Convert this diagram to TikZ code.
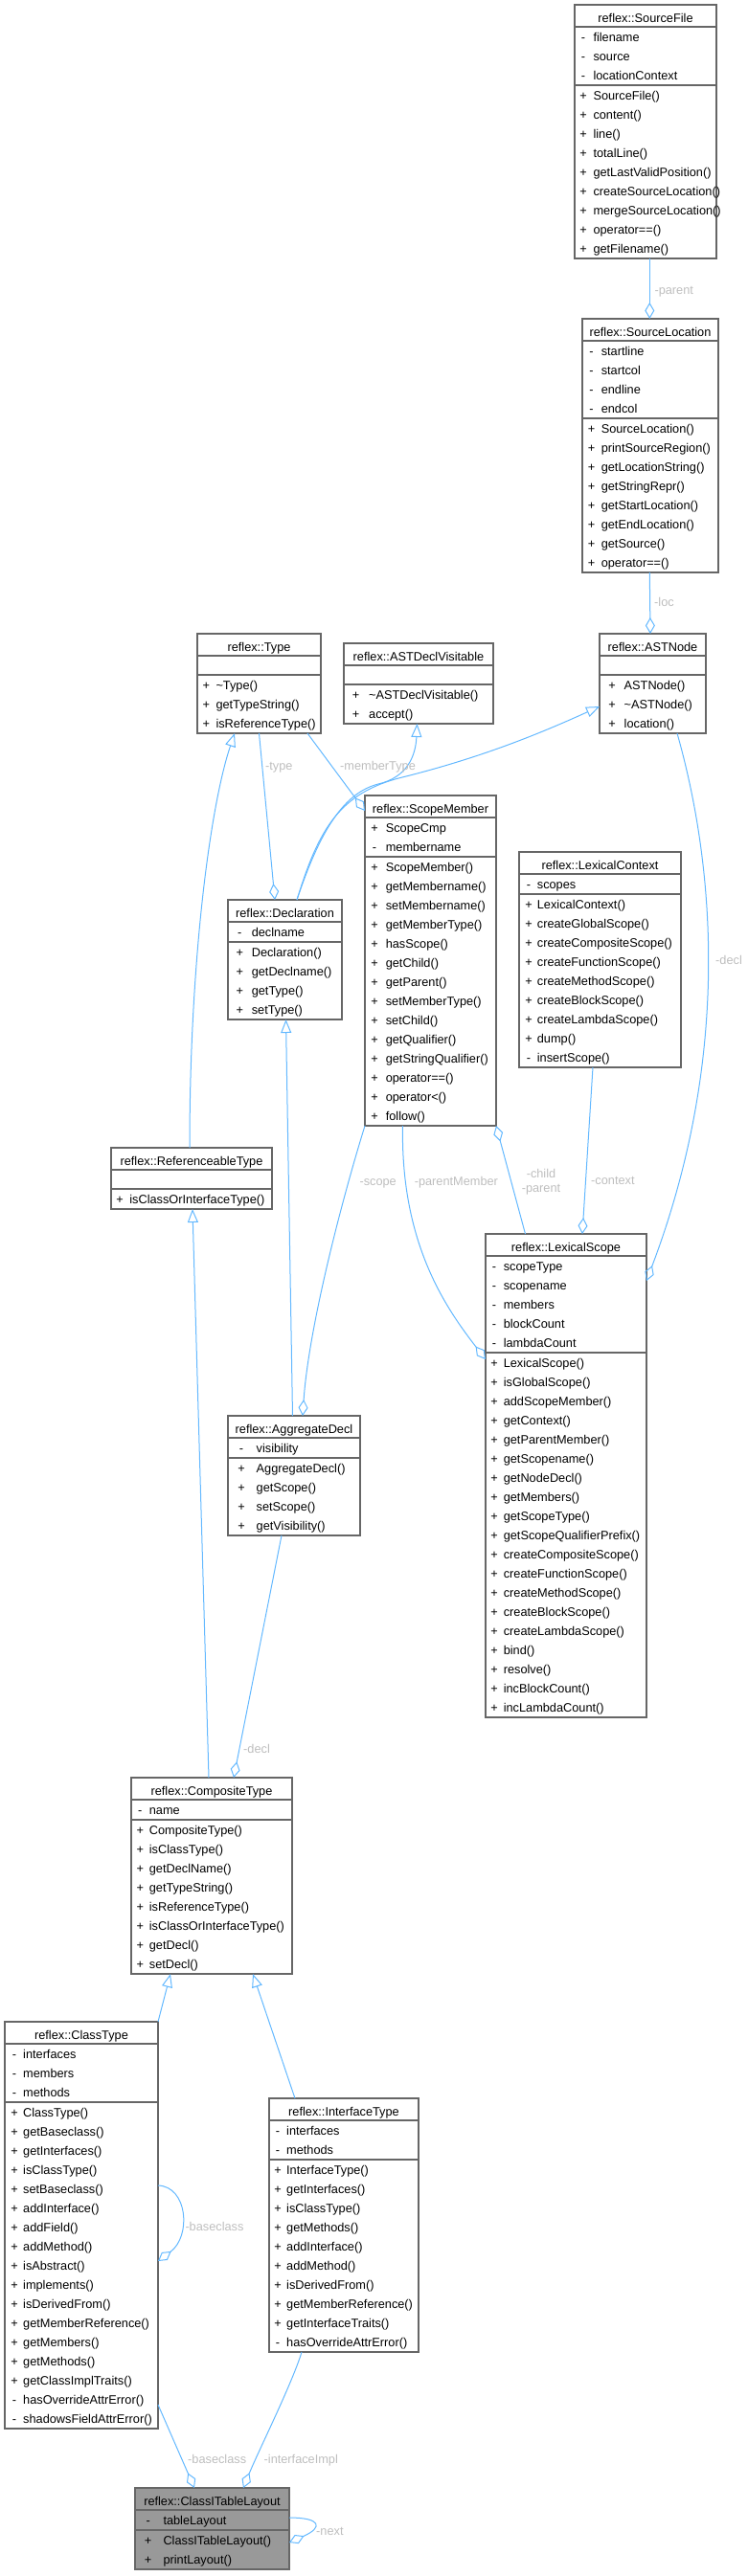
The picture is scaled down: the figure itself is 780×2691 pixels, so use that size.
\documentclass[tikz,border=0pt]{standalone}
\usepackage{fontspec}
\setmainfont{Liberation Sans}
\usetikzlibrary{arrows.meta,calc}

\begin{document}
\begin{tikzpicture}[
  x=1pt, y=-1pt,
  font=\fontsize{12.75}{15}\selectfont,
  every node/.style={inner sep=0pt},
  classbox/.style={draw=boxgrey, fill=\boxfill, line width=1.2pt, outer sep=0pt},
  classline/.style={draw=boxgrey, line width=1.2pt},
  conn/.style={draw=edgeblue, line width=1pt},
  inherit/.style={conn, -{Triangle[open, length=14pt, width=11pt]}},
  aggr/.style={conn, -{Diamond[open, length=17pt, width=10pt]}},
  edgelabel/.style={text=labelgrey},
]

\definecolor{boxgrey}{HTML}{666666}
\definecolor{edgeblue}{HTML}{63B8FF}
\definecolor{labelgrey}{HTML}{BEBEBE}
\definecolor{nodegrey}{HTML}{999999}
\def\boxfill{white}

\useasboundingbox (0,0) rectangle (780,2691);

% #1 name, #2 left, #3 top, #4 width, #5 symbol x, #6 member x,
% #7 title, #8 attributes, #9 methods
\def\umlclass#1#2#3#4#5#6#7#8#9{%
  \gdef\nattr{0}\gdef\nmeth{0}%
  \def\tmpattr{#8}%
  \ifx\tmpattr\empty\else
    \foreach \vis/\mem [count=\c] in {#8} {\xdef\nattr{\c}}%
  \fi
  \foreach \vis/\mem [count=\c] in {#9} {\xdef\nmeth{\c}}%
  \pgfmathsetmacro\hattr{\nattr==0 ? 20 : 20*\nattr+1}%
  \pgfmathsetmacro\htot{23+\hattr+20*\nmeth+1}%
  % frame and dividers
  \node[classbox, minimum width=#4pt, minimum height=\htot pt, anchor=north west] (#1) at (#2,#3) {};
  \draw[classline] ({#2},{#3+23}) -- ++(#4,0);
  \draw[classline] ({#2},{#3+23+\hattr}) -- ++(#4,0);
  % title
  \node[anchor=base] (#1-title) at ({#2+#4/2},{#3+18}) {#7};
  % attributes
  \ifx\tmpattr\empty\else
    \foreach \vis/\mem [count=\i] in {#8} {
      \pgfmathsetmacro\yy{#3+23+15+20*(\i-1)}
      \node[anchor=base] (#1-av\i) at ({#2+#5},\yy) {\vis};
      \node[anchor=base west] (#1-a\i) at ({#2+#6},\yy) {\mem};
    }%
  \fi
  % methods
  \foreach \vis/\mem [count=\i] in {#9} {
    \pgfmathsetmacro\yy{#3+23+\hattr+15+20*(\i-1)}
    \node[anchor=base] (#1-mv\i) at ({#2+#5},\yy) {\vis};
    \node[anchor=base west] (#1-m\i) at ({#2+#6},\yy) {\mem};
  }%
}

% classes
\umlclass{SourceFile}{600}{5}{148}{9}{19.3}{reflex::SourceFile}
  {-/filename, -/source, -/locationContext}
  {+/SourceFile(), +/content(), +/line(), +/totalLine(), +/getLastValidPosition(),
   +/createSourceLocation(), +/mergeSourceLocation(), +/operator==(), +/getFilename()}

\umlclass{SourceLocation}{608}{333}{142}{9.6}{19.6}{reflex::SourceLocation}
  {-/startline, -/startcol, -/endline, -/endcol}
  {+/SourceLocation(), +/printSourceRegion(), +/getLocationString(), +/getStringRepr(),
   +/getStartLocation(), +/getEndLocation(), +/getSource(), +/operator==()}

\umlclass{ASTNode}{626}{662}{111}{13}{25.5}{reflex::ASTNode}
  {}
  {+/ASTNode(), +/{\textasciitilde}ASTNode(), +/location()}

\umlclass{Type}{206}{662}{129}{9.3}{19.3}{reflex::Type}
  {}
  {+/{\textasciitilde}Type(), +/getTypeString(), +/isReferenceType()}

\umlclass{ASTDeclVisitable}{359}{672}{156}{12.7}{26}{reflex::ASTDeclVisitable}
  {}
  {+/{\textasciitilde}ASTDeclVisitable(), +/accept()}

\umlclass{ScopeMember}{381}{831}{137}{10}{21.6}{reflex::ScopeMember}
  {+/ScopeCmp, -/membername}
  {+/ScopeMember(), +/getMembername(), +/setMembername(), +/getMemberType(), +/hasScope(),
   +/getChild(), +/getParent(), +/setMemberType(), +/setChild(), +/getQualifier(),
   +/getStringQualifier(), +/operator==(), +/operator<(), +/follow()}

\umlclass{LexicalContext}{542}{890}{169}{10}{18.7}{reflex::LexicalContext}
  {-/scopes}
  {+/LexicalContext(), +/createGlobalScope(), +/createCompositeScope(),
   +/createFunctionScope(), +/createMethodScope(), +/createBlockScope(),
   +/createLambdaScope(), +/dump(), -/insertScope()}

\umlclass{Declaration}{238}{940}{119}{12.3}{24.6}{reflex::Declaration}
  {-/declname}
  {+/Declaration(), +/getDeclname(), +/getType(), +/setType()}

\umlclass{ReferenceableType}{116}{1199}{168}{9}{19.2}{reflex::ReferenceableType}
  {}
  {+/isClassOrInterfaceType()}

\umlclass{LexicalScope}{507}{1289}{168}{9}{18.6}{reflex::LexicalScope}
  {-/scopeType, -/scopename, -/members, -/blockCount, -/lambdaCount}
  {+/LexicalScope(), +/isGlobalScope(), +/addScopeMember(), +/getContext(),
   +/getParentMember(), +/getScopename(), +/getNodeDecl(), +/getMembers(),
   +/getScopeType(), +/getScopeQualifierPrefix(), +/createCompositeScope(),
   +/createFunctionScope(), +/createMethodScope(), +/createBlockScope(),
   +/createLambdaScope(), +/bind(), +/resolve(), +/incBlockCount(), +/incLambdaCount()}

\umlclass{AggregateDecl}{238}{1479}{138}{14}{29.5}{reflex::AggregateDecl}
  {-/visibility}
  {+/AggregateDecl(), +/getScope(), +/setScope(), +/getVisibility()}

\umlclass{CompositeType}{137}{1857}{168}{9.3}{18.7}{reflex::CompositeType}
  {-/name}
  {+/CompositeType(), +/isClassType(), +/getDeclName(), +/getTypeString(),
   +/isReferenceType(), +/isClassOrInterfaceType(), +/getDecl(), +/setDecl()}

\umlclass{ClassType}{5}{2112}{160}{10}{19}{reflex::ClassType}
  {-/interfaces, -/members, -/methods}
  {+/ClassType(), +/getBaseclass(), +/getInterfaces(), +/isClassType(), +/setBaseclass(),
   +/addInterface(), +/addField(), +/addMethod(), +/isAbstract(), +/implements(),
   +/isDerivedFrom(), +/getMemberReference(), +/getMembers(), +/getMethods(),
   +/getClassImplTraits(), -/hasOverrideAttrError(), -/shadowsFieldAttrError()}

\umlclass{InterfaceType}{281}{2192}{156}{9}{18}{reflex::InterfaceType}
  {-/interfaces, -/methods}
  {+/InterfaceType(), +/getInterfaces(), +/isClassType(), +/getMethods(),
   +/addInterface(), +/addMethod(), +/isDerivedFrom(), +/getMemberReference(),
   +/getInterfaceTraits(), -/hasOverrideAttrError()}

\def\boxfill{nodegrey}
\umlclass{ClassITableLayout}{141}{2599}{161}{13.7}{29.3}{reflex::ClassITableLayout}
  {-/tableLayout}
  {+/ClassITableLayout(), +/printLayout()}

% inheritance
\draw[inherit] ($(ReferenceableType.north west)+(82,0)$)
  .. controls (198,1000) and (220,840) .. ($(Type.south west)+(39,0)$);
\draw[inherit] ($(Declaration.north west)+(72,0)$)
  .. controls (335,865) and (360,828) .. (395,819)
  .. controls (425,812) and (434,790) .. ($(ASTDeclVisitable.south west)+(76.5,0)$);
\draw[inherit] ($(Declaration.north west)+(72,0)$)
  .. controls (333,865) and (355,828) .. (420,812)
  .. controls (500,792) and (560,768) .. ($(ASTNode.north west)+(0,76)$);
\draw[inherit] ($(AggregateDecl.north west)+(67.5,0)$) -- ($(Declaration.south west)+(60.5,0)$);
\draw[inherit] ($(CompositeType.north west)+(81,0)$) -- ($(ReferenceableType.south west)+(85,0)$);
\draw[inherit] (ClassType.north east) -- ($(CompositeType.south west)+(41,0)$);
\draw[inherit] ($(InterfaceType.north west)+(27,0)$) -- ($(CompositeType.south west)+(127,0)$);

% members
\draw[aggr] ($(SourceFile.south west)+(78.3,0)$) -- ($(SourceLocation.north west)+(70.3,0)$);
\node[edgelabel, anchor=base west] (lbl-parent) at (683.3,307.2) {-parent};

\draw[aggr] ($(SourceLocation.south west)+(70.3,0)$) -- ($(ASTNode.north west)+(53,0)$);
\node[edgelabel, anchor=base west] (lbl-loc) at (683,633) {-loc};

\draw[aggr] ($(ASTNode.south west)+(81,0)$)
  .. controls (745,900) and (765,1100) .. ($(LexicalScope.north east)+(0,49)$);
\node[edgelabel, anchor=base west] (lbl-decl) at (747,1007.5) {-decl};

\draw[aggr] ($(LexicalContext.south west)+(77,0)$) -- ($(LexicalScope.north west)+(101,0)$);
\node[edgelabel, anchor=base west] (lbl-context) at (617,1237.5) {-context};

\draw[aggr] ($(LexicalScope.north west)+(41.5,0)$) -- (ScopeMember.south east);
\node[edgelabel, anchor=base] (lbl-child) at (565,1230.5) {-child};
\node[edgelabel, anchor=base] (lbl-parent2) at (565,1245.2) {-parent};

\draw[aggr] ($(ScopeMember.south west)+(39.5,0)$)
  .. controls (418,1300) and (467,1368) .. ($(LexicalScope.north west)+(0,131)$);
\node[edgelabel, anchor=base] (lbl-parentmember) at (476.4,1238.5) {-parentMember};

\draw[aggr] (ScopeMember.south west)
  .. controls (355,1260) and (322,1390) .. ($(AggregateDecl.north west)+(78,0)$);
\node[edgelabel, anchor=base] (lbl-scope) at (394.7,1238.5) {-scope};

\draw[aggr] ($(Type.south west)+(115,0)$) -- ($(ScopeMember.north west)+(0,16)$);
\node[edgelabel, anchor=base west] (lbl-membertype) at (355,804.5) {-memberType};

\draw[aggr] ($(Type.south west)+(64.5,0)$) -- ($(Declaration.north west)+(49,0)$);
\node[edgelabel, anchor=base west] (lbl-type) at (277,804.5) {-type};

\draw[aggr] ($(AggregateDecl.south west)+(56,0)$) -- ($(CompositeType.north west)+(107,0)$);
\node[edgelabel, anchor=base west] (lbl-decl2) at (254,1831) {-decl};

\draw[aggr] ($(ClassType.north east)+(0,171)$)
  .. controls (196,2284) and (200,2336) .. ($(ClassType.north east)+(0,250)$);
\node[edgelabel, anchor=base west] (lbl-baseclass) at (193.3,2330) {-baseclass};

\draw[aggr] ($(ClassType.north east)+(0,400)$) -- ($(ClassITableLayout.north west)+(62,0)$);
\node[edgelabel, anchor=base] (lbl-baseclass2) at (226.7,2573.8) {-baseclass};

\draw[aggr] ($(InterfaceType.south west)+(34,0)$)
  .. controls (305,2490) and (270,2560) .. ($(ClassITableLayout.north west)+(113,0)$);
\node[edgelabel, anchor=base] (lbl-interfaceimpl) at (314.3,2573.8) {-interfaceImpl};

\draw[aggr] ($(ClassITableLayout.north east)+(0,31)$)
  .. controls (335,2630) and (338,2640) .. ($(ClassITableLayout.north east)+(0,57)$);
\node[edgelabel, anchor=base west] (lbl-next) at (330,2648.5) {-next};

\end{tikzpicture}
\end{document}
